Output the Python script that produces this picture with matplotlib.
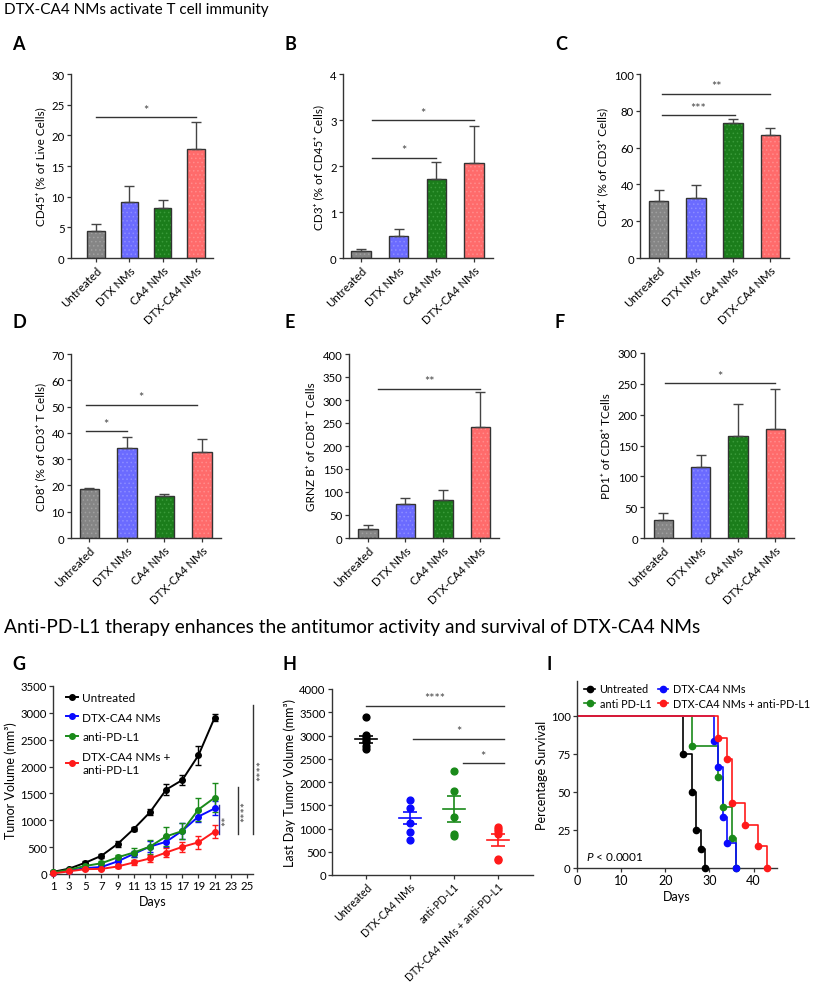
import numpy as np
import matplotlib
matplotlib.use("Agg")
from matplotlib import pyplot as plt
from matplotlib.lines import Line2D

plt.rcParams["font.family"] = ["Lato", "DejaVu Sans"]
plt.rcParams["mathtext.fontset"] = "custom"
plt.rcParams["mathtext.rm"] = "Lato"
plt.rcParams["mathtext.it"] = "Lato:italic"
plt.rcParams["hatch.linewidth"] = 0.6
plt.rcParams["axes.linewidth"] = 1.0

# ---------------- data ----------------
groups = ["Untreated", "DTX NMs", "CA4 NMs", "DTX-CA4 NMs"]
bar_colors = ["#858585", "#6b6bff", "#1b7d1b", "#ff6b6b"]
dot_colors = ["#a0a0a0", "#8c8cff", "#3a9a3a", "#ff8c8c"]

a_mean = [4.4, 9.2, 8.1, 17.7]
a_err = [1.1, 2.6, 1.3, 4.4]
b_mean = [0.15, 0.47, 1.72, 2.07]
b_err = [0.04, 0.17, 0.36, 0.81]
c_mean = [31, 32.5, 73.5, 67]
c_err = [5.8, 7, 2.2, 3.8]
d_mean = [18.5, 34.4, 16.1, 32.7]
d_err = [0.6, 4.0, 0.8, 5.0]
e_mean = [20, 74, 83, 242]
e_err = [8, 13, 21, 75]
f_mean = [30, 115, 166, 177]
f_err = [10, 20, 52, 64]

days = [1, 3, 5, 7, 9, 11, 13, 15, 17, 19, 21]
g_untreated = [40, 100, 210, 340, 560, 840, 1150, 1570, 1750, 2210, 2910]
g_untreated_err = [15, 20, 30, 40, 50, 40, 60, 100, 100, 180, 60]
g_dtxca4 = [20, 60, 110, 130, 235, 375, 510, 600, 805, 1070, 1220]
g_dtxca4_err = [10, 20, 25, 30, 40, 60, 100, 100, 150, 100, 130]
g_antipdl1 = [30, 80, 150, 200, 310, 400, 510, 700, 800, 1200, 1420]
g_antipdl1_err = [10, 20, 30, 40, 50, 80, 130, 180, 150, 220, 270]
g_combo = [10, 50, 90, 95, 140, 215, 290, 400, 505, 590, 790]
g_combo_err = [10, 15, 20, 25, 30, 40, 60, 80, 90, 120, 120]

h_groups = ["Untreated", "DTX-CA4 NMs", "anti-PD-L1", "DTX-CA4 NMs + anti-PD-L1"]
h_points = [
    [3390, 3020, 2960, 2900, 2850, 2780, 2700],
    [1620, 1450, 1120, 920, 760],
    [2240, 1810, 1250, 880, 830],
    [1030, 1000, 950, 880, 340, 320],
]
h_mean = [2920, 1225, 1420, 755]
h_sem = [75, 135, 270, 130]
h_colors = ["black", "#0a0aff", "#1a8a1a", "#ff1a1a"]

i_untreated_t = [0, 24, 26, 27, 28, 29]
i_untreated_s = [100, 75, 50, 25, 12.5, 0]
i_antipdl1_t = [0, 26, 32, 33, 35, 36]
i_antipdl1_s = [100, 80, 60, 40, 20, 0]
i_dtxca4_t = [0, 31, 32, 33, 34, 36]
i_dtxca4_s = [100, 83.3, 66.7, 33.3, 16.7, 0]
i_combo_t = [0, 32, 34, 35, 38, 41, 43]
i_combo_s = [100, 85.7, 71.4, 42.9, 28.6, 14.3, 0]

W, H = 817, 987
fig = plt.figure(figsize=(W / 100, H / 100), dpi=100)


def box(left, right, top, bottom):
    return [left / W, 1 - bottom / H, (right - left) / W, (bottom - top) / H]


def style_axes(ax, size=8):
    for s in ["top", "right"]:
        ax.spines[s].set_visible(False)
    for s in ["left", "bottom"]:
        ax.spines[s].set_color("#333333")
    ax.tick_params(labelsize=size, length=3, width=0.9, color="#333333", pad=1.5)


def bar_panel(rect, off, vals, errs, ymax, ystep, ylabel, sigs):
    ax = fig.add_axes(rect)
    x = np.arange(4)
    ax.bar(x, vals, width=0.52, color=bar_colors, edgecolor=dot_colors,
           hatch="....", linewidth=0)
    ax.bar(x, vals, width=0.52, fill=False, edgecolor="#333333", linewidth=1)
    ax.errorbar(x, vals, yerr=[np.zeros(4), errs], fmt="none", ecolor="#444444",
                elinewidth=1, capsize=3.5, capthick=1)
    ax.set_xlim(-off, 3.5)
    ax.set_ylim(0, ymax)
    ax.set_yticks(np.arange(0, ymax + ystep / 2, ystep))
    ax.set_xticks(x)
    ax.set_xticklabels(groups, rotation=45, ha="right", rotation_mode="anchor")
    ax.set_ylabel(ylabel, fontsize=8.5, labelpad=4)
    style_axes(ax, 8.2)
    for x0, x1, y, lab in sigs:
        ax.plot([x0, x1], [y, y], color="#333333", lw=1, clip_on=False)
        ax.annotate(lab, ((x0 + x1) / 2, y), xytext=(0, 1), textcoords="offset points",
                    ha="center", va="bottom", fontsize=9, color="#444444")
    return ax


bar_panel(box(71, 212.6, 75, 259), 0.75, a_mean, a_err, 30, 5,
          "CD45\u207a (% of Live Cells)", [(0, 3, 23, "*")])
bar_panel(box(343, 492.7, 75, 259), 0.48, b_mean, b_err, 4, 1,
          "CD3\u207a (% of CD45\u207a Cells)", [(0.28, 3, 3.0, "*"), (0.28, 2, 2.18, "*")])
bar_panel(box(640, 789, 75, 259), 0.5, c_mean, c_err, 100, 20,
          "CD4\u207a (% of CD3\u207a Cells)", [(0.08, 3, 89.3, "**"), (0.08, 2.05, 77.7, "***")])
bar_panel(box(71, 220.6, 355, 539), 0.49, d_mean, d_err, 70, 10,
          "CD8\u207a (% of CD3\u207a T Cells)", [(-0.1, 2.87, 50.7, "*"), (-0.1, 1.0, 40.6, "*")])
bar_panel(box(349, 499, 355, 539), 0.5, e_mean, e_err, 400, 50,
          "GRNZ B\u207a of CD8\u207a T Cells", [(0.28, 3, 325, "**")])
bar_panel(box(644, 794, 354, 539), 0.52, f_mean, f_err, 300, 50,
          "PD1\u207a of CD8\u207a TCells", [(0.05, 3, 251, "*")])

# ---------------- G ----------------
axg = fig.add_axes(box(53, 253, 687, 875))
g_series = [
    (g_untreated, g_untreated_err, "black", "Untreated"),
    (g_dtxca4, g_dtxca4_err, "#0a0aff", "DTX-CA4 NMs"),
    (g_antipdl1, g_antipdl1_err, "#1a8a1a", "anti-PD-L1"),
    (g_combo, g_combo_err, "#ff1a1a", "DTX-CA4 NMs +\nanti-PD-L1"),
]
g_handles = []
for vals, errs, col, lab in g_series:
    axg.errorbar(days, vals, yerr=errs, color=col, marker="o", ms=4, lw=1.4,
                 elinewidth=1, capsize=2, clip_on=False, zorder=3)
    g_handles.append(Line2D([], [], color=col, marker="o", ms=4, lw=1.4, label=lab))
axg.set_xlim(1, 25.75)
axg.set_ylim(0, 3500)
axg.set_xticks(range(1, 26, 2))
axg.set_yticks(range(0, 3501, 500))
axg.set_xlabel("Days", fontsize=9, labelpad=3)
axg.set_ylabel("Tumor Volume (mm\u00b3)", fontsize=9, labelpad=2)
style_axes(axg, 8.2)
axg.legend(handles=g_handles, loc="upper left", bbox_to_anchor=(0.04, 0.995),
           frameon=False, fontsize=8.5, handlelength=1.0, handletextpad=0.4,
           labelspacing=0.75, borderaxespad=0)
for xv, y0, y1, lab, col, tx in [(21.6, 740, 1290, "**", "#2a2a9a", 22.6),
                                 (23.9, 740, 1625, "****", "#333333", 24.9),
                                 (25.7, 740, 3150, "****", "#333333", 26.9)]:
    axg.plot([xv, xv], [y0, y1], color=col, lw=1, clip_on=False)
    axg.text(tx, (y0 + y1) / 2, lab, rotation=90, ha="center", va="center",
             fontsize=9, color="#444444", clip_on=False)

# ---------------- H ----------------
axh = fig.add_axes(box(332, 533, 690, 876))
for i, (pts, m, s, col) in enumerate(zip(h_points, h_mean, h_sem, h_colors)):
    axh.scatter(np.full(len(pts), i), pts, s=24, color=col, zorder=3, clip_on=False)
    axh.plot([i - 0.25, i + 0.25], [m, m], color=col, lw=1.2, zorder=4)
    axh.errorbar([i], [m], yerr=[s], fmt="none", ecolor=col, elinewidth=1.2,
                 capsize=5, capthick=1.2, zorder=4)
axh.set_xlim(-0.77, 3.8)
axh.set_ylim(0, 4000)
axh.set_yticks(range(0, 4001, 500))
axh.set_xticks(range(4))
axh.set_xticklabels(h_groups, rotation=45, ha="right", rotation_mode="anchor")
axh.set_ylabel("Last Day Tumor Volume (mm\u00b3)", fontsize=9, labelpad=2)
style_axes(axh, 8.2)
axh.tick_params(axis="x", labelsize=7.6, pad=1)
for x0, x1, y, lab in [(0, 3.14, 3640, "****"), (1.07, 3.14, 2930, "*"), (2.2, 3.14, 2410, "*")]:
    axh.plot([x0, x1], [y, y], color="#333333", lw=1)
    axh.annotate(lab, ((x0 + x1) / 2, y), xytext=(0, 1), textcoords="offset points",
                 ha="center", va="bottom", fontsize=9, color="#444444")

# ---------------- I ----------------
axi = fig.add_axes(box(577, 777, 682, 869))
i_series = [
    (i_untreated_t, i_untreated_s, "black", "Untreated"),
    (i_antipdl1_t, i_antipdl1_s, "#1a8a1a", "anti PD-L1"),
    (i_dtxca4_t, i_dtxca4_s, "#0a0aff", "DTX-CA4 NMs"),
    (i_combo_t, i_combo_s, "#ff1a1a", "DTX-CA4 NMs + anti-PD-L1"),
]
i_handles = []
for t, s, col, lab in i_series:
    axi.step(t, s, where="post", color=col, lw=1.2)
    axi.plot(t[1:], s[1:], "o", color=col, ms=4.5, clip_on=False, zorder=3)
    i_handles.append(Line2D([], [], color=col, marker="o", ms=4.5, lw=1.2, label=lab))
axi.set_xlim(0, 45.3)
axi.set_ylim(0, 123)
axi.set_yticks([0, 25, 50, 75, 100])
axi.set_xticks([0, 10, 20, 30, 40])
axi.set_xlabel("Days", fontsize=9, labelpad=3)
axi.set_ylabel("Percentage Survival", fontsize=9, labelpad=2)
style_axes(axi, 8.2)
axi.tick_params(axis="x", labelsize=9)
axi.text(2, 4, "$P$ < 0.0001", fontsize=8.5, ha="left", va="bottom")
axi.legend(handles=i_handles, loc="upper left", bbox_to_anchor=(0.015, 1.01), ncol=2,
           frameon=False, fontsize=7.8, handlelength=1.0, handletextpad=0.4,
           columnspacing=0.6, labelspacing=0.35, borderaxespad=0)

# ---------------- titles & letters ----------------
fig.text(4 / W, 1 - 10 / H, "DTX-CA4 NMs activate T cell immunity", fontsize=11, va="center")
fig.text(4 / W, 1 - 628 / H,
         "Anti-PD-L1 therapy enhances the antitumor activity and survival of DTX-CA4 NMs",
         fontsize=13.8, va="center")
for lab, x, y in [("A", 12, 45), ("B", 285, 45), ("C", 555, 45),
                  ("D", 12, 323), ("E", 285, 323), ("F", 555, 323),
                  ("G", 12, 665), ("H", 283, 665), ("I", 547, 665)]:
    fig.text(x / W, 1 - y / H, lab, fontsize=13, fontweight="bold", va="center")

fig.savefig("out.png", dpi=100)
